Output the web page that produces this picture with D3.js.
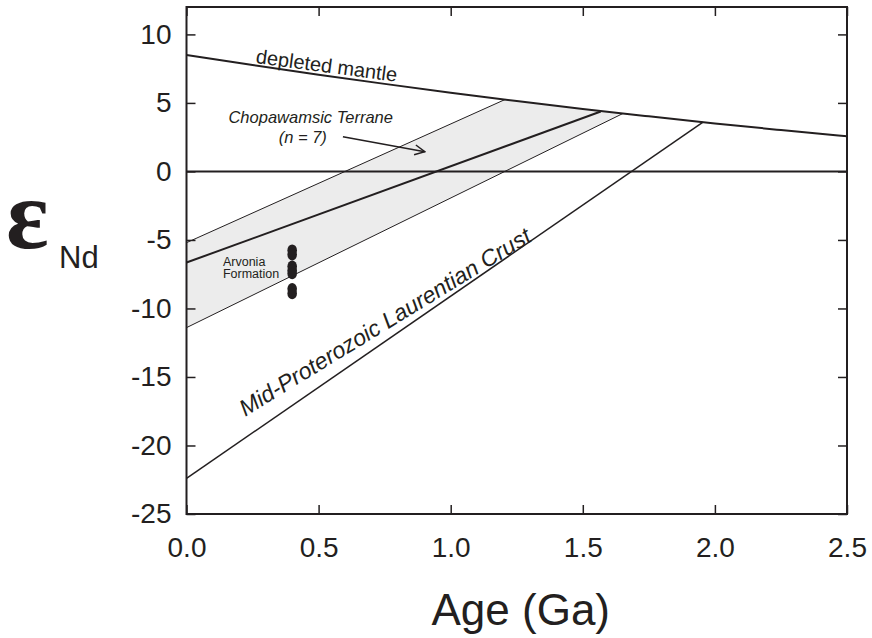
<!DOCTYPE html>
<html>
<head>
<meta charset="utf-8">
<script src="https://cdn.jsdelivr.net/npm/d3@7"></script>
<style>
  body { margin: 0; background: #fff; }
  text { font-family: "Liberation Sans", Arial, Helvetica, sans-serif; fill: #231f20; }
</style>
</head>
<body>
<svg id="chart" width="872" height="638"></svg>
<script>
// Axis ticks
var xTicks = [0, 0.5, 1.0, 1.5, 2.0, 2.5];
var yTicks = [-25, -20, -15, -10, -5, 0, 5, 10];

// Depleted mantle curve (age Ga, eps Nd)
var mantleAge = [0, 0.25, 0.5, 0.75, 1.0, 1.25, 1.5, 1.75, 2.0, 2.25, 2.5];
var mantleEps = [8.5, 7.77, 7.06, 6.39, 5.75, 5.14, 4.56, 4.02, 3.5, 3.02, 2.56];

// CHUR reference line
var churAge = [0, 2.5];
var churEps = [0, 0];

// Chopawamsic Terrane band: upper edge, mean, lower edge
var upperAge = [0, 1.206];
var upperEps = [-5.2, 5.25];
var meanAge = [0, 1.568];
var meanEps = [-6.65, 4.37];
var lowerAge = [0, 1.652];
var lowerEps = [-11.4, 4.23];

// Mid-Proterozoic Laurentian crust
var crustAge = [0, 1.955];
var crustEps = [-22.4, 3.6];

// Arvonia Formation samples
var arvoniaAge = [0.4, 0.4, 0.4, 0.4, 0.4, 0.4, 0.4];
var arvoniaEps = [-5.75, -6.07, -6.92, -7.21, -7.45, -8.57, -8.91];

// Arrow to the band (from label to band)
var arrowAge = [0.592, 0.902];
var arrowEps = [2.53, 1.44];

var svg = d3.select("#chart");

var x = d3.scaleLinear().domain([0, 2.5]).range([186.5, 847]);
var y = d3.scaleLinear().domain([-25, 12]).range([514, 7]);

function pts(a, e) { return a.map(function (d, i) { return [d, e[i]]; }); }

var line = d3.line()
    .x(function (d) { return x(d[0]); })
    .y(function (d) { return y(d[1]); });

var smooth = d3.line()
    .x(function (d) { return x(d[0]); })
    .y(function (d) { return y(d[1]); })
    .curve(d3.curveMonotoneX);

svg.append("defs").append("clipPath").attr("id", "clip")
  .append("rect")
    .attr("x", x(0)).attr("y", y(12))
    .attr("width", x(2.5) - x(0)).attr("height", y(-25) - y(12));

var plot = svg.append("g").attr("clip-path", "url(#clip)");

// grey band
var bandPts = pts(upperAge, upperEps)
    .concat(pts(mantleAge, mantleEps).filter(function (d) { return d[0] > upperAge[1] && d[0] < lowerAge[1]; }))
    .concat(pts(lowerAge, lowerEps).reverse());
plot.append("path")
    .attr("d", line(bandPts) + "Z")
    .attr("fill", "#ececec")
    .attr("stroke", "none");

plot.append("path").attr("d", line(pts(upperAge, upperEps)))
    .attr("fill", "none").attr("stroke", "#231f20").attr("stroke-width", 1);
plot.append("path").attr("d", line(pts(lowerAge, lowerEps)))
    .attr("fill", "none").attr("stroke", "#231f20").attr("stroke-width", 1);
plot.append("path").attr("d", line(pts(meanAge, meanEps)))
    .attr("fill", "none").attr("stroke", "#231f20").attr("stroke-width", 2);

plot.append("path").attr("d", line(pts(churAge, churEps)))
    .attr("fill", "none").attr("stroke", "#231f20").attr("stroke-width", 2);

plot.append("path").attr("d", smooth(pts(mantleAge, mantleEps)))
    .attr("fill", "none").attr("stroke", "#231f20").attr("stroke-width", 2);

plot.append("path").attr("d", line(pts(crustAge, crustEps)))
    .attr("fill", "none").attr("stroke", "#231f20").attr("stroke-width", 1.5);

// Arvonia dots
plot.selectAll("ellipse.arv")
    .data(pts(arvoniaAge, arvoniaEps))
    .enter()
    .append("ellipse")
    .attr("class", "arv")
    .attr("cx", function (d) { return x(d[0]); })
    .attr("cy", function (d) { return y(d[1]); })
    .attr("rx", 4.8)
    .attr("ry", 5.8)
    .attr("fill", "#231f20");

// arrow
svg.select("defs").append("marker")
    .attr("id", "arrow")
    .attr("viewBox", "0 0 12 12")
    .attr("refX", 11).attr("refY", 6)
    .attr("markerWidth", 12).attr("markerHeight", 12)
    .attr("markerUnits", "userSpaceOnUse")
    .attr("orient", "auto")
  .append("path")
    .attr("d", "M1,1 L11,6 L1,11")
    .attr("fill", "none")
    .attr("stroke", "#231f20")
    .attr("stroke-width", 1.5);

svg.append("path")
    .attr("d", line(pts(arrowAge, arrowEps)))
    .attr("fill", "none")
    .attr("stroke", "#231f20")
    .attr("stroke-width", 1.5)
    .attr("marker-end", "url(#arrow)");

// frame
svg.append("rect")
    .attr("x", x(0)).attr("y", y(12))
    .attr("width", x(2.5) - x(0)).attr("height", y(-25) - y(12))
    .attr("fill", "none").attr("stroke", "#231f20").attr("stroke-width", 2);

// axes with inward ticks
var tickLen = 9;
var hyphen = function (d) { return String(d).replace("\u2212", "-"); };
svg.append("g")
    .attr("transform", "translate(0," + y(-25) + ")")
    .call(d3.axisBottom(x).tickValues(xTicks).tickSizeInner(-tickLen).tickSizeOuter(0).tickPadding(23).tickFormat(d3.format(".1f")))
    .call(function (g) { g.select(".domain").remove(); })
    .call(function (g) { g.selectAll("text").attr("font-size", 28).attr("fill", "#231f20").attr("font-family", "Liberation Sans, Arial, sans-serif"); })
    .call(function (g) { g.selectAll("line").attr("stroke", "#231f20").attr("stroke-width", 1.5); });

svg.append("g")
    .attr("transform", "translate(0," + y(12) + ")")
    .call(d3.axisTop(x).tickValues(xTicks).tickSizeInner(-tickLen).tickSizeOuter(0).tickFormat(""))
    .call(function (g) { g.select(".domain").remove(); })
    .call(function (g) { g.selectAll("line").attr("stroke", "#231f20").attr("stroke-width", 1.5); });

svg.append("g")
    .attr("transform", "translate(" + x(0) + ",0)")
    .call(d3.axisLeft(y).tickValues(yTicks).tickSizeInner(-tickLen).tickSizeOuter(0).tickPadding(15).tickFormat(hyphen))
    .call(function (g) { g.select(".domain").remove(); })
    .call(function (g) { g.selectAll("text").attr("font-size", 28).attr("fill", "#231f20").attr("font-family", "Liberation Sans, Arial, sans-serif"); })
    .call(function (g) { g.selectAll("line").attr("stroke", "#231f20").attr("stroke-width", 1.5); });

svg.append("g")
    .attr("transform", "translate(" + x(2.5) + ",0)")
    .call(d3.axisRight(y).tickValues(yTicks).tickSizeInner(-tickLen).tickSizeOuter(0).tickFormat(""))
    .call(function (g) { g.select(".domain").remove(); })
    .call(function (g) { g.selectAll("line").attr("stroke", "#231f20").attr("stroke-width", 1.5); });

// axis titles
svg.append("text")
    .attr("x", (x(0) + x(2.5)) / 2 + 4)
    .attr("y", 625)
    .attr("text-anchor", "middle")
    .attr("font-size", 44)
    .text("Age (Ga)");

svg.append("text")
    .attr("x", 6)
    .attr("y", 248)
    .attr("font-size", 100)
    .attr("font-weight", "bold")
    .style("font-family", "'Liberation Serif', 'Times New Roman', serif")
    .text("ε");
svg.append("text")
    .attr("x", 59)
    .attr("y", 268)
    .attr("font-size", 31)
    .text("Nd");

// annotations
var mantleAngle = Math.atan2(y(mantleEps[4]) - y(mantleEps[0]), x(mantleAge[4]) - x(mantleAge[0])) * 180 / Math.PI;
svg.append("text")
    .attr("transform", "translate(" + x(0.26) + "," + (y(8.5) + 8) + ") rotate(" + (mantleAngle - 0.5) + ")")
    .attr("font-size", 20)
    .text("depleted mantle");

svg.append("text")
    .attr("x", x(0.47)).attr("y", y(3.5))
    .attr("text-anchor", "middle")
    .attr("font-size", 16.5)
    .attr("font-style", "italic")
    .text("Chopawamsic Terrane");
svg.append("text")
    .attr("x", x(0.44)).attr("y", y(2.05))
    .attr("text-anchor", "middle")
    .attr("font-size", 16.5)
    .attr("font-style", "italic")
    .text("(n = 7)");

svg.append("text")
    .attr("x", x(0.138)).attr("y", y(-6.9))
    .attr("font-size", 12.5)
    .text("Arvonia");
svg.append("text")
    .attr("x", x(0.138)).attr("y", y(-7.8))
    .attr("font-size", 12.5)
    .text("Formation");

svg.append("text")
    .attr("transform", "translate(" + x(0.222) + "," + y(-17.9) + ") rotate(-31.5)")
    .attr("font-size", 23)
    .attr("font-style", "italic")
    .text("Mid-Proterozoic Laurentian Crust");
</script>
</body>
</html>
